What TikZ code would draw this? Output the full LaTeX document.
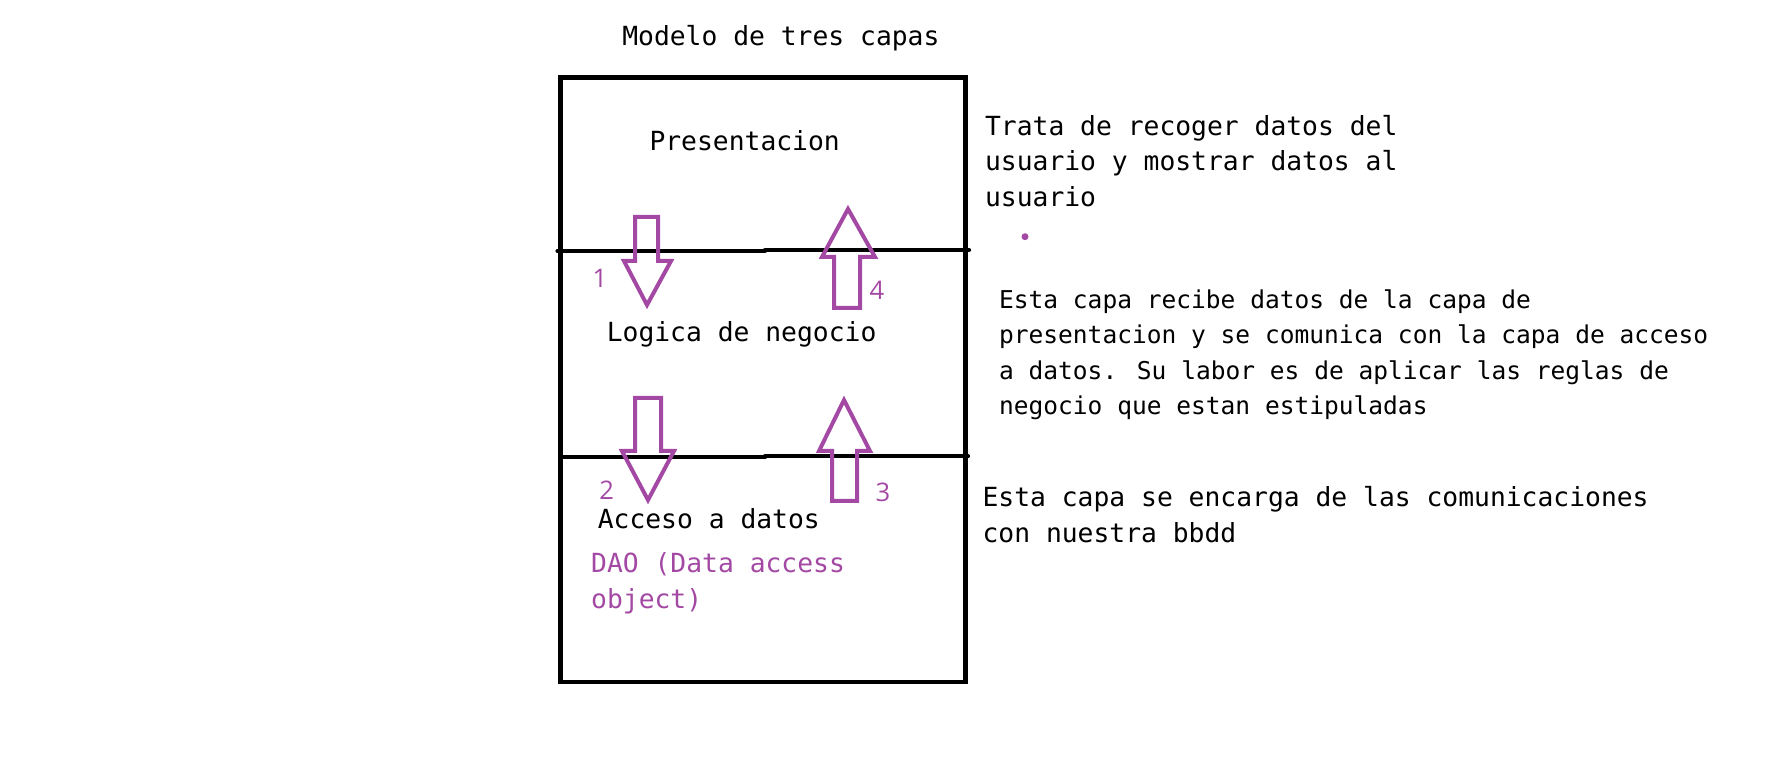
\documentclass[tikz,border=0pt]{standalone}
\usepackage{fontspec}
\newfontfamily\monofuente{DejaVu Sans Mono}
\newfontfamily\numfuente{Open Sans}
\definecolor{morado}{RGB}{163,73,164}

\begin{document}
\begin{tikzpicture}[x=0.5pt, y=-0.5pt,
                    line width=2.1pt,
                    texto/.style={anchor=base west, inner sep=0, align=left,
                                  font=\monofuente\fontsize{13.17pt}{17.9pt}\selectfont},
                    textochico/.style={texto,
                                  font=\monofuente\fontsize{12.27pt}{17.8pt}\selectfont},
                    numero/.style={anchor=base, inner sep=0, text=morado,
                                   font=\numfuente\fontsize{12.8pt}{15pt}\selectfont},
                    flecha/.style={draw=morado, line width=2pt, line join=miter}]
                \useasboundingbox (0,0) rectangle (1768,780);

                % caja y separadores de capas
                \draw (560.5,77.5) rectangle (965.5,681.7);
                \draw [line cap=round] (557.5,251) -- (765,251);
                \draw [line cap=round] (765,250) -- (969,250);
                \draw [line cap=round] (561,457.3) -- (765,457.3);
                \draw [line cap=round] (765,456.3) -- (968,456.3);

                % flechas huecas
                \draw [flecha] (635,217) -- (658,217) -- (658,261) -- (671,261)
                               -- (647,305) -- (624,261) -- (635,261) -- cycle;
                \draw [flecha] (635,398) -- (661,398) -- (661,451) -- (674,451)
                               -- (648,500) -- (622,451) -- (635,451) -- cycle;
                \draw [flecha] (844,400) -- (870,451) -- (857,451) -- (857,501)
                               -- (832,501) -- (832,451) -- (819,451) -- cycle;
                \draw [flecha] (848,209) -- (875,257) -- (860,257) -- (860,308)
                               -- (834,308) -- (834,257) -- (822,257) -- cycle;
                \fill [morado] (1025,236.7) circle (3.5);

                \node [numero] (n1) at (600,288)   {1};
                \node [numero] (n2) at (606.7,500) {2};
                \node [numero] (n3) at (883,501.7) {3};
                \node [numero] (n4) at (877,300)   {4};

                % textos de las capas (varias lineas: base de la ultima linea)
                \node [texto] (titulo)       at (620.2,45.7)  {Modelo de tres capas};
                \node [texto] (presentacion) at (647.4,150.7) {Presentacion};
                \node [texto] (logica)       at (604.7,341.7) {Logica de negocio};
                \node [texto] (acceso)       at (595.7,528.3) {Acceso a datos};
                \node [texto, text=morado] (dao) at (589.1,608.3) {DAO (Data access\\object)};

                \node [texto] (desc1) at (983,206.7)
                    {Trata de recoger datos del\\usuario y mostrar datos al\\usuario};
                \node [textochico] (desc2) at (997,415)
                    {Esta capa recibe datos de la capa de\\presentacion y se comunica con la capa de acceso\\a datos. Su labor es de aplicar las reglas de\\negocio que estan estipuladas};
                \node [texto] (desc3) at (980.5,542.7)
                    {Esta capa se encarga de las comunicaciones\\con nuestra bbdd};
            \end{tikzpicture}
\end{document}
